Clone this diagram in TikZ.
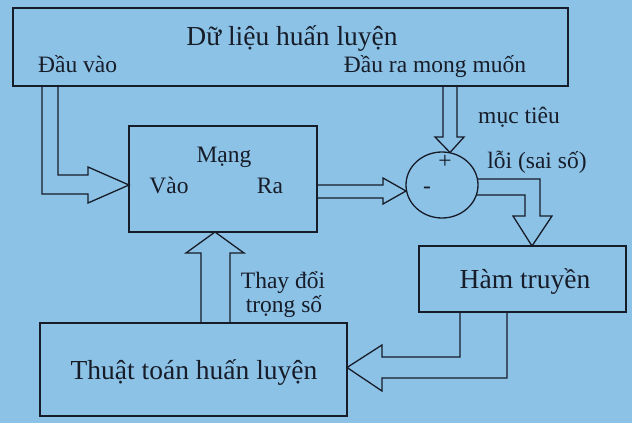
\documentclass[tikz,border=0pt]{standalone}
\usepackage{fontspec}
\setmainfont{Liberation Serif}
\usetikzlibrary{shapes.geometric}
\definecolor{bg}{RGB}{141,194,231}
\definecolor{ink}{RGB}{22,28,40}
\begin{document}
\begin{tikzpicture}[x=1pt,y=-1pt,
  boxst/.style={draw=ink,line width=1.3pt,rectangle,inner sep=0pt},
  blk/.style={draw=ink,line width=1.3pt,line join=miter},
  big/.style={text=ink,font=\fontsize{27.5}{30}\selectfont,inner sep=0pt},
  small/.style={text=ink,font=\fontsize{23.5}{26}\selectfont,inner sep=0pt}]
\fill[bg] (0,0) rectangle (632,423);
\useasboundingbox (0,0) rectangle (632,423);
% boxes
\node[boxst,minimum width=555pt,minimum height=78pt] (data) at (290.5,47) {};
\node[boxst,minimum width=188pt,minimum height=106pt] (mang) at (223,179) {};
\node[draw=ink,line width=1.3pt,ellipse,minimum width=72pt,minimum height=66pt,inner sep=0pt] (sum) at (442,185) {};
\node[boxst,minimum width=207pt,minimum height=66pt] (ham) at (522.5,279) {};
\node[boxst,minimum width=307pt,minimum height=93pt] (thuat) at (193.5,369.5) {};
% texts
\node[big,anchor=base] (t1) at (292,45) {Dữ liệu huấn luyện};
\node[small,anchor=base west] (t2) at (38,72) {Đầu vào};
\node[small,anchor=base] (t3) at (435,72) {Đầu ra mong muốn};
\node[small,anchor=base] (t4) at (224,162) {Mạng};
\node[small,anchor=base] (t5) at (169,193) {Vào};
\node[small,anchor=base] (t6) at (270,193) {Ra};
\node[small] (t7) at (445,162) {+};
\node[small] (t8) at (427,190) {-};
\node[small,anchor=base] (t9) at (519,123) {mục tiêu};
\node[small,anchor=base] (t10) at (537,168) {lỗi (sai số)};
\node[big,anchor=base] (t11) at (525,288) {Hàm truyền};
\node[small,anchor=base] (t12) at (283,288) {Thay đổi};
\node[small,anchor=base] (t13) at (284,312) {trọng số};
\node[big,anchor=base] (t14) at (194,379) {Thuật toán huấn luyện};
% block arrows
\coordinate (a1) at (129,185);
\draw[blk] (42,86) -- (42,194) -- (88,194) -- (88,203) -- (a1) -- (88,167) -- (88,175) -- (58,175) -- (58,86);
\coordinate (a2) at (406,191);
\draw[blk] (317,185) -- (383,185) -- (383,178) -- (a2) -- (383,204) -- (383,198) -- (317,198);
\coordinate (a3) at (450,152.5);
\draw[blk] (443,86) -- (443,137) -- (435,137) -- (a3) -- (464,137) -- (457,137) -- (457,86);
\coordinate (a4) at (532,246);
\draw[blk] (477.3,179) -- (540,179) -- (540,216) -- (552,216) -- (a4) -- (513,216) -- (525,216) -- (525,195) -- (476.2,195);
\coordinate (a5) at (215,232);
\draw[blk] (201,323) -- (201,253) -- (186,253) -- (a5) -- (244,253) -- (230,253) -- (230,323);
\coordinate (a6) at (347,367.5);
\draw[blk] (460,312) -- (460,357) -- (382,357) -- (382,345) -- (a6) -- (382,391) -- (382,378) -- (507,378) -- (507,312);
\end{tikzpicture}
\end{document}
